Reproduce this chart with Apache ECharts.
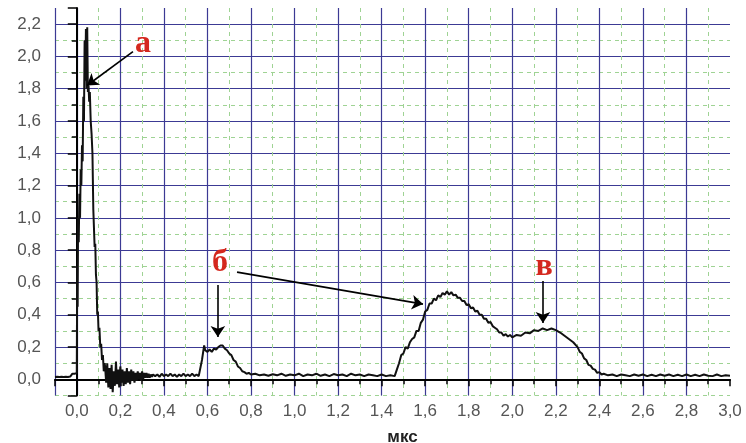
<!DOCTYPE html>
<html>
<head>
<meta charset="utf-8">
<script src="https://cdn.jsdelivr.net/npm/echarts@6/dist/echarts.min.js"></script>
<style>
  html, body { margin: 0; padding: 0; background: #fff; }
  #chart { width: 746px; height: 443px; }
</style>
</head>
<body>
<div id="chart"></div>
<script>
// signal: time (мкс) and amplitude
var times = [
  -0.1, -0.09, -0.08, -0.07, -0.06, -0.05, -0.04, -0.03, -0.022, -0.02, -0.01, -0.002,
  0.0, 0.002, 0.004, 0.006, 0.009, 0.012, 0.015, 0.018, 0.021, 0.024, 0.027, 0.03,
  0.033, 0.036, 0.039, 0.042, 0.045, 0.048, 0.051, 0.054, 0.057, 0.06, 0.064, 0.068,
  0.072, 0.076, 0.079, 0.082, 0.085, 0.088, 0.091, 0.094, 0.097, 0.1, 0.104, 0.108,
  0.112, 0.116, 0.12, 0.124, 0.128,
  0.13, 0.135, 0.14, 0.145, 0.15, 0.155, 0.16, 0.165, 0.17, 0.175, 0.18, 0.185,
  0.19, 0.195, 0.2, 0.205, 0.21, 0.215, 0.22, 0.225, 0.23, 0.235, 0.24, 0.245,
  0.25, 0.255, 0.26, 0.265, 0.27, 0.275, 0.28, 0.285, 0.29, 0.295, 0.3, 0.305,
  0.31, 0.315, 0.32, 0.325, 0.33, 0.335, 0.34, 0.345, 0.35,
  0.36, 0.37, 0.38, 0.39, 0.4, 0.41, 0.42, 0.43, 0.44, 0.45, 0.46, 0.47,
  0.48, 0.49, 0.5, 0.51, 0.52, 0.53, 0.54, 0.55, 0.56, 0.565,
  0.575, 0.585, 0.59, 0.6, 0.61, 0.62, 0.63, 0.64, 0.65, 0.66, 0.665, 0.67,
  0.68, 0.69, 0.7, 0.71, 0.72, 0.73, 0.74, 0.75, 0.76, 0.77, 0.78, 0.79, 0.8,
  0.82, 0.84, 0.86, 0.88, 0.9, 0.92, 0.94, 0.96, 0.98, 1.0, 1.02, 1.04,
  1.06, 1.08, 1.1, 1.12, 1.14, 1.16, 1.18, 1.2, 1.22, 1.24, 1.26, 1.28,
  1.3, 1.32, 1.34, 1.36, 1.38, 1.4, 1.42, 1.44, 1.46,
  1.47, 1.48, 1.49, 1.5, 1.51, 1.52, 1.53, 1.54, 1.55, 1.56, 1.57, 1.58,
  1.59, 1.6, 1.61, 1.62, 1.63, 1.64, 1.65, 1.66, 1.67, 1.68, 1.69, 1.7,
  1.71, 1.72, 1.73, 1.74, 1.75, 1.76, 1.77, 1.78, 1.79, 1.8, 1.81, 1.82,
  1.83, 1.84, 1.85, 1.86, 1.87, 1.88, 1.89, 1.9, 1.91, 1.92, 1.93, 1.94,
  1.95, 1.96, 1.97, 1.98, 1.99, 2.0, 2.02, 2.04, 2.06, 2.08, 2.1, 2.12,
  2.14, 2.16, 2.18, 2.2, 2.22, 2.24, 2.26, 2.28, 2.3, 2.31, 2.32, 2.33,
  2.34, 2.35, 2.36, 2.37, 2.38, 2.39, 2.4, 2.41, 2.42,
  2.44, 2.46, 2.48, 2.5, 2.52, 2.54, 2.56, 2.58, 2.6, 2.62, 2.64, 2.66,
  2.68, 2.7, 2.72, 2.74, 2.76, 2.78, 2.8, 2.82, 2.84, 2.86, 2.88, 2.9,
  2.92, 2.94, 2.96, 2.98, 3.0
];
var signal = [
  0.015, 0.016, 0.015, 0.016, 0.015, 0.016, 0.015, 0.017, 0.016, 0.035, 0.034, 0.036,
  0.04, 0.7, 0.45, 1.0, 0.85, 1.15, 1.0, 1.3, 1.2, 1.45, 1.35, 1.75,
  1.6, 2.1, 1.85, 2.17, 1.8, 2.18, 1.78, 1.82, 1.72, 1.78, 1.6, 1.52,
  1.4, 1.05, 1.06, 0.82, 0.84, 0.65, 0.6, 0.4, 0.42, 0.3, 0.32, 0.2,
  0.22, 0.12, 0.15, 0.05, 0.1,
  0.08, -0.02, 0.1, -0.05, 0.07, -0.06, 0.09, -0.08, 0.05, -0.04, 0.11, -0.03,
  0.06, -0.05, 0.08, -0.02, 0.06, -0.04, 0.05, -0.03, 0.07, -0.02, 0.05, -0.03,
  0.06, -0.01, 0.05, -0.02, 0.04, -0.01, 0.05, 0.0, 0.04, -0.01, 0.05, 0.0,
  0.04, 0.01, 0.04, 0.01, 0.035, 0.01, 0.03, 0.015, 0.03,
  0.02, 0.03, 0.015, 0.035, 0.02, 0.03, 0.02, 0.035, 0.02, 0.03, 0.015, 0.03,
  0.02, 0.035, 0.02, 0.03, 0.02, 0.035, 0.02, 0.03, 0.02, 0.02,
  0.12, 0.21, 0.18, 0.17, 0.185, 0.17, 0.19, 0.185, 0.2, 0.21, 0.2, 0.21,
  0.19, 0.18, 0.16, 0.15, 0.12, 0.11, 0.08, 0.07, 0.05, 0.045, 0.035, 0.04, 0.03,
  0.035, 0.025, 0.03, 0.022, 0.032, 0.025, 0.035, 0.022, 0.03, 0.025, 0.035, 0.02,
  0.03, 0.025, 0.035, 0.022, 0.03, 0.02, 0.033, 0.025, 0.03, 0.02, 0.035, 0.025,
  0.03, 0.02, 0.03, 0.025, 0.02, 0.03, 0.02, 0.025, 0.02,
  0.06, 0.1, 0.15, 0.16, 0.2, 0.19, 0.23, 0.25, 0.26, 0.3, 0.3, 0.35,
  0.37, 0.42, 0.43, 0.47, 0.47, 0.5, 0.49, 0.52, 0.51, 0.535, 0.525, 0.545,
  0.525, 0.54, 0.52, 0.525, 0.505, 0.505, 0.485, 0.485, 0.46, 0.465, 0.44, 0.445,
  0.42, 0.425, 0.4, 0.4, 0.375, 0.375, 0.35, 0.355, 0.33, 0.32, 0.31, 0.29,
  0.29, 0.27, 0.28, 0.265, 0.275, 0.26, 0.275, 0.27, 0.29, 0.285, 0.305, 0.3,
  0.315, 0.305, 0.315, 0.305, 0.29, 0.27, 0.25, 0.23, 0.2, 0.17, 0.16, 0.13,
  0.12, 0.09, 0.085, 0.065, 0.06, 0.04, 0.045, 0.03, 0.035,
  0.025, 0.03, 0.02, 0.03, 0.025, 0.02, 0.03, 0.022, 0.03, 0.02, 0.028, 0.02,
  0.03, 0.022, 0.03, 0.02, 0.028, 0.02, 0.03, 0.02, 0.028, 0.02, 0.03, 0.022,
  0.02, 0.03, 0.02, 0.025, 0.022
];

// axis ranges and steps
var xRange = [-0.1, 3.0];
var yRange = [-0.1, 2.3];
var minorStep = 0.1;

// red letters and the arrows pointing at the peaks
var noteLabels = ['а', 'б', 'в'];
var notePoints = [[0.304, 2.08], [0.658, 0.72], [2.146, 0.695]];
var arrows = [
  [[0.258, 2.03], [0.047, 1.82]],
  [[0.648, 0.584], [0.648, 0.262]],
  [[0.736, 0.664], [1.59, 0.466]],
  [[2.141, 0.609], [2.141, 0.349]]
];

var majorColor = '#3c3a94';
var minorColor = '#9fd394';

function commaLabel(v) {
  var k = Math.round(v * 10);
  if (v < -1e-9 || Math.abs(v * 10 - k) > 1e-6 || k % 2 !== 0) return '';
  return v.toFixed(1).replace('.', ',');
}

var chart = echarts.init(document.getElementById('chart'), null, { renderer: 'canvas' });

var option = {
  backgroundColor: '#fff',
  animation: false,
  grid: { left: 55, right: 16, top: 8, bottom: 47.5, outerBoundsMode: 'none', containLabel: false },
  xAxis: [
    {
      // minor grid, fine ticks, carries the data
      type: 'value',
      min: xRange[0], max: xRange[1], interval: minorStep,
      axisLine: { show: true, lineStyle: { color: '#000', width: 2 } },
      axisTick: { show: true, length: 5, lineStyle: { color: '#000', width: 1.5 } },
      axisLabel: { show: false },
      splitLine: { show: true, showMaxLine: false, lineStyle: { color: minorColor, type: [4, 4], width: 1 } },
      name: 'мкс', nameLocation: 'middle', nameGap: 33,
      nameTextStyle: { fontFamily: 'Liberation Sans', fontWeight: 'bold', fontSize: 17, color: '#222', padding: [0, 0, 0, 20] }
    },
    {
      // major grid and labels
      type: 'value', position: 'bottom',
      min: xRange[0], max: xRange[1], splitNumber: 15,
      axisLine: { show: false },
      axisTick: { show: true, length: 7, lineStyle: { color: '#000', width: 1.5 } },
      axisLabel: { formatter: commaLabel, fontFamily: 'Liberation Sans', fontSize: 17, color: '#555', margin: 7 },
      splitLine: { show: true, showMaxLine: false, lineStyle: { color: majorColor, width: 1.2 } }
    }
  ],
  yAxis: [
    {
      type: 'value', position: 'left',
      min: yRange[0], max: yRange[1], interval: minorStep,
      axisLine: { show: true, lineStyle: { color: '#000', width: 2 } },
      axisTick: { show: true, length: 5, lineStyle: { color: '#000', width: 1.5 } },
      axisLabel: { show: false },
      splitLine: { show: true, showMaxLine: false, lineStyle: { color: minorColor, type: [4, 4], width: 1 } }
    },
    {
      type: 'value', position: 'left',
      min: yRange[0], max: yRange[1], splitNumber: 12,
      axisLine: { show: false },
      axisTick: { show: true, length: 9, lineStyle: { color: '#000', width: 1.5 } },
      axisLabel: { formatter: commaLabel, fontFamily: 'Liberation Sans', fontSize: 17, color: '#555', margin: 14 },
      splitLine: { show: true, showMaxLine: false, showMinLine: false, lineStyle: { color: majorColor, width: 1.2 } }
    }
  ],
  series: [
    {
      type: 'line',
      xAxisIndex: 0,
      yAxisIndex: 0,
      data: times.map(function (t, i) { return [t, signal[i]]; }),
      showSymbol: false,
      lineStyle: { color: '#111', width: 2 },
      silent: true,
      markLine: {
        silent: true,
        symbol: ['none', 'arrow'],
        symbolSize: 11,
        label: { show: false },
        lineStyle: { color: '#000', width: 1.6, type: 'solid' },
        data: arrows.map(function (a) {
          return [{ coord: a[0] }, { coord: a[1] }];
        })
      },
      markPoint: {
        silent: true,
        symbol: 'circle',
        symbolSize: 1,
        itemStyle: { color: 'rgba(0,0,0,0)' },
        label: {
          show: true, position: 'inside',
          formatter: function (p) { return p.name; },
          fontFamily: 'Liberation Serif', fontWeight: 'bold', fontSize: 32, color: '#d4281e'
        },
        data: noteLabels.map(function (n, i) {
          return { name: n, coord: notePoints[i] };
        })
      }
    }
  ]
};

chart.setOption(option);
window.addEventListener('resize', function () {
  chart.resize();
});
</script>
</body>
</html>
